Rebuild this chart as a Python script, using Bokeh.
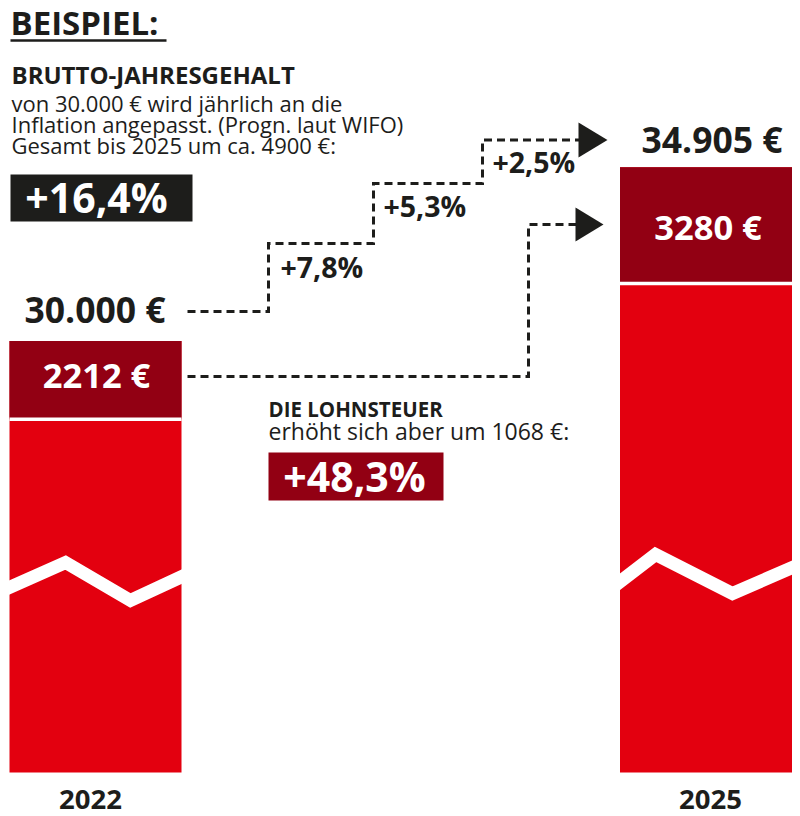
from bokeh.plotting import figure
from bokeh.models import Range1d
from bokeh.embed import file_html
from bokeh.resources import INLINE
from bokeh.core.properties import value

# ---------------- data ----------------
years = [2022, 2025]
year_labels = ["2022", "2025"]
gross = [30000, 34905]          # Brutto-Jahresgehalt in €
tax = [2212, 3280]              # Lohnsteuer in €
step_rates = [7.8, 5.3, 2.5]    # jährliche Anpassung in %
total_growth = 16.4             # Gehalt gesamt in %
tax_growth = 48.3               # Lohnsteuer in %
gross_increase_approx = 4900    # ca. in €

def eur_dot(v):
    return f"{v:,}".replace(",", ".") + " €"

def pct(v):
    return "+" + f"{v:.1f}".replace(".", ",") + "%"

tax_increase = tax[1] - tax[0]

# ---------------- layout ----------------
W, H = 800, 816
BAR_C = [95, 705.5]         # bar centres in px
BAR_PX = 172
PX_PER_YEAR = (BAR_C[1] - BAR_C[0]) / (years[1] - years[0])
x_start = years[0] - BAR_C[0] / PX_PER_YEAR
x_end = x_start + W / PX_PER_YEAR
S = 0.0354                  # px per euro
ANCHOR_PY = 340.5           # px of first gross value
y_end = gross[0] + ANCHOR_PY / S
y_start = y_end - H / S

def X(px):
    return x_start + px / PX_PER_YEAR

def Y(py):
    return y_end - py / S

BASE = Y(772)               # broken-axis baseline of bars
BAR_W = BAR_PX / PX_PER_YEAR

RED = "#e3000f"
DARK = "#920013"
INK = "#1d1d1b"
FONT = value("Open Sans")

p = figure(width=W, height=H, x_range=Range1d(x_start, x_end), y_range=Range1d(y_start, y_end),
           output_backend="svg", toolbar_location=None, min_border=0,
           x_axis_location=None, y_axis_location=None)
p.grid.visible = False
p.outline_line_color = None
p.background_fill_color = "white"
p.border_fill_color = "white"

def label(px, py, txt, size, bold=True, color=INK, align="left"):
    # py = vertical centre of capitals
    p.text(x=[X(px)], y=[Y(py - 0.03 * size)], text=[txt], text_font=FONT, text_font_size=f"{size}px",
           text_font_style="bold" if bold else "normal", text_color=color,
           text_align=align, text_baseline="middle")

# ---------------- bars ----------------
net = [g - t for g, t in zip(gross, tax)]
p.vbar(x=years, width=BAR_W, bottom=BASE, top=gross, fill_color=RED, line_color=None)
p.vbar(x=years, width=BAR_W, bottom=net, top=gross, fill_color=DARK, line_color=None)
p.segment(x0=[x - BAR_W / 2 for x in years], x1=[x + BAR_W / 2 for x in years],
          y0=net, y1=net, line_color="white", line_width=3.5)

# axis-break zigzags
zz = [
    [(2, 590), (65, 562), (130, 600), (188, 573)],
    [(612, 587), (655, 554), (732, 593), (800, 563.5)],
]
p.multi_line(xs=[[X(a) for a, b in z] for z in zz], ys=[[Y(b) for a, b in z] for z in zz],
             line_color="white", line_width=13, line_join="miter")

# value labels
label(94.5, 310, eur_dot(gross[0]), 35.5, align="center")
label(711.5, 140, eur_dot(gross[1]), 35.5, align="center")
label(96, 375.5, f"{tax[0]} €", 34.5, color="white", align="center")
label(707.5, 227, f"{tax[1]} €", 34.5, color="white", align="center")

# year labels
p.text(x=years, y=[Y(800 - 0.03 * 27)] * 2, x_offset=[-5, 4.5], text=year_labels, text_font=FONT,
       text_font_size="27.5px", text_font_style="bold", text_color=INK,
       text_align="center", text_baseline="middle")

# ---------------- dashed arrows ----------------
up = [(187, 311), (268, 311), (268, 243), (373, 243), (373, 183), (482, 183), (482, 139.5), (580, 139.5)]
low = [(187, 376), (528, 376), (528, 224), (578, 224)]
p.multi_line(xs=[[X(a) for a, b in up], [X(a) for a, b in low]],
             ys=[[Y(b) for a, b in up], [Y(b) for a, b in low]],
             line_color=INK, line_width=3, line_dash="8 5", line_join="miter")
heads = [[(578, 122), (578, 157), (607, 139.5)], [(575, 207), (575, 241), (603, 224)]]
p.patches(xs=[[X(a) for a, b in h] for h in heads], ys=[[Y(b) for a, b in h] for h in heads],
          fill_color=INK, line_color=None)

label(280, 267, pct(step_rates[0]), 28.5)
label(383, 206, pct(step_rates[1]), 28.5)
label(492, 162, pct(step_rates[2]), 28.5)

# ---------------- headline & notes ----------------
label(10, 23, "BEISPIEL:", 33)
p.segment(x0=[X(10)], x1=[X(166)], y0=[Y(40)], y1=[Y(40)], line_color=INK, line_width=2.5)

label(11, 75, "BRUTTO-JAHRESGEHALT", 24)
label(11, 103, "von " + eur_dot(gross[0]) + " wird jährlich an die", 22, bold=False)
label(11, 124.5, "Inflation angepasst. (Progn. laut WIFO)", 22, bold=False)
label(11, 145.5, f"Gesamt bis {years[1]} um ca. {gross_increase_approx} €:", 22, bold=False)

p.quad(left=[X(10)], right=[X(192)], top=[Y(174)], bottom=[Y(221)], fill_color=INK, line_color=None)
label(96, 198, pct(total_growth), 41, color="white", align="center")

label(268, 409, "DIE LOHNSTEUER", 20.5)
label(268, 431, f"erhöht sich aber um {tax_increase} €:", 23, bold=False)
p.quad(left=[X(268)], right=[X(443)], top=[Y(452)], bottom=[Y(500)], fill_color=DARK, line_color=None)
label(354, 477, pct(tax_growth), 41, color="white", align="center")

open("out.html", "w").write(file_html(p, INLINE))
